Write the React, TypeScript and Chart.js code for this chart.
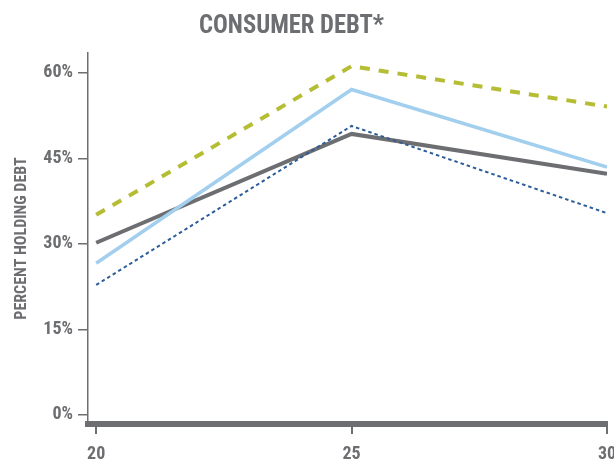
import React, { useEffect, useRef } from "react";
import { Chart, registerables } from "chart.js";

Chart.register(...registerables);

const ages = [20, 25, 30];
const xTickValues = [20, 25, 30];
const yTickValues = [0, 15, 30, 45, 60];
const seriesLightBlue = [26.6, 57.1, 43.5];
const seriesGreen = [35.1, 61.2, 54.1];
const seriesDarkBlue = [22.8, 50.7, 35.4];
const seriesGrey = [30.2, 49.3, 42.3];
const titleText = "CONSUMER DEBT*";
const yAxisTitle = "PERCENT HOLDING DEBT";

const FONT = "'Roboto Condensed', 'DejaVu Sans Condensed', sans-serif";
const GREY = "#6d6e71";

const titlePlugin = {
  id: "customTitle",
  afterDraw(chart: any) {
    const ctx = chart.ctx;
    ctx.save();
    ctx.font = `bold 25px ${FONT}`;
    ctx.fillStyle = GREY;
    ctx.textAlign = "center";
    ctx.textBaseline = "alphabetic";
    const w = ctx.measureText(titleText).width;
    const sx = Math.min(1, 185 / w);
    ctx.translate(291.5, 33);
    ctx.scale(sx, 1);
    ctx.fillText(titleText, 0, 0);
    ctx.restore();
  },
};

export default function App() {
  const ref = useRef<HTMLCanvasElement | null>(null);
  useEffect(() => {
    if (!ref.current) return;
    const toPts = (arr: number[]) => ages.map((a, i) => ({ x: a, y: arr[i] }));
    const chart = new Chart(ref.current, {
      type: "line",
      data: {
        datasets: [
          {
            label: "Light blue",
            data: toPts(seriesLightBlue),
            borderColor: "#a3cfee",
            borderWidth: 3.5,
            pointRadius: 0,
            tension: 0,
          },
          {
            label: "Green",
            data: toPts(seriesGreen),
            borderColor: "#b5bd35",
            borderWidth: 4,
            borderDash: [10, 9],
            pointRadius: 0,
            tension: 0,
          },
          {
            label: "Dark blue",
            data: toPts(seriesDarkBlue),
            borderColor: "#2d5d99",
            borderWidth: 2,
            borderDash: [3.5, 3],
            pointRadius: 0,
            tension: 0,
          },
          {
            label: "Grey",
            data: toPts(seriesGrey),
            borderColor: GREY,
            borderWidth: 4,
            pointRadius: 0,
            tension: 0,
          },
        ],
      },
      options: {
        animation: false,
        responsive: true,
        maintainAspectRatio: false,
        layout: { padding: { top: 53, right: 7, left: 0, bottom: 0 } },
        plugins: {
          legend: { display: false },
          tooltip: { enabled: false },
          title: { display: false },
        },
        scales: {
          x: {
            type: "linear",
            min: 19.84,
            max: 30,
            afterBuildTicks: (scale: any) => {
              scale.ticks = xTickValues.map((v) => ({ value: v }));
            },
            afterFit: (scale: any) => {
              scale.height = 38;
              scale.paddingLeft = 0;
              scale.paddingRight = 0;
            },
            grid: {
              display: true,
              drawOnChartArea: false,
              drawTicks: true,
              tickLength: 10,
              color: GREY,
              lineWidth: 2,
            },
            border: { display: true, color: GREY, width: 6 },
            ticks: {
              padding: 10,
              maxRotation: 0,
              autoSkip: false,
              color: GREY,
              font: { family: FONT, size: 18, weight: "bold" },
              callback: (v: any) => String(v),
            },
          },
          y: {
            type: "linear",
            min: -1.6,
            max: 63.5,
            afterBuildTicks: (scale: any) => {
              scale.ticks = yTickValues.map((v) => ({ value: v }));
            },
            afterFit: (scale: any) => {
              scale.width = 88;
              scale.paddingTop = 0;
              scale.paddingBottom = 0;
            },
            grid: {
              display: true,
              drawOnChartArea: false,
              drawTicks: true,
              tickLength: 10,
              color: GREY,
              lineWidth: 1.5,
            },
            border: { display: true, color: GREY, width: 1.5 },
            title: {
              display: true,
              text: yAxisTitle,
              color: GREY,
              font: { family: FONT, size: 16, weight: "bold" },
              padding: { top: 12, bottom: 0 },
            },
            ticks: {
              padding: 5,
              autoSkip: false,
              color: GREY,
              font: { family: FONT, size: 18, weight: "bold" },
              callback: (v: any) => `${v}%`,
            },
          },
        },
      },
      plugins: [titlePlugin],
    } as any);
    return () => chart.destroy();
  }, []);
  return (
    <div style={{ position: "fixed", left: 0, top: 0, width: 614, height: 462 }}>
      <canvas ref={ref} />
    </div>
  );
}
